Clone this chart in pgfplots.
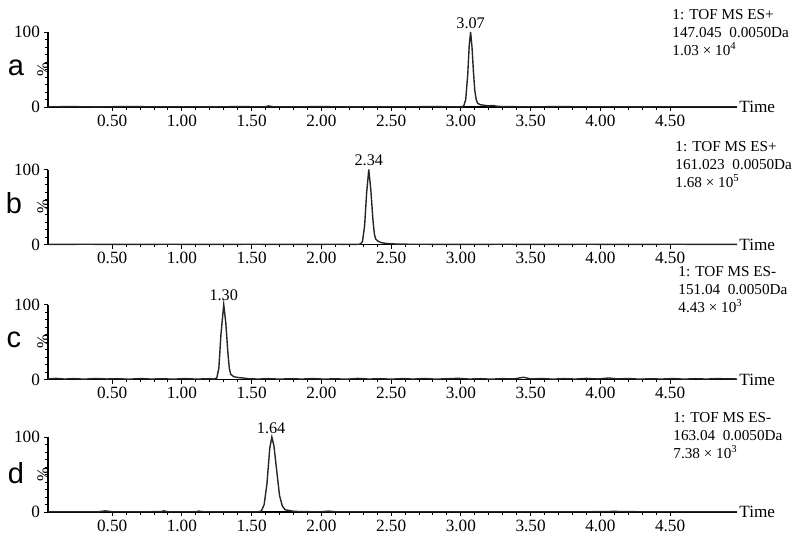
\documentclass[border=0pt]{standalone}
\usepackage{fontspec}
\setmainfont{Liberation Serif}
\newfontfamily\arialfont{Liberation Sans}
\usepackage{pgfplots}
\pgfplotsset{compat=1.18}

% 1px of the reference = 0.5pt
\pgfplotsset{
  msaxis/.style={
    scale only axis, width=344.5pt, height=37.5pt, anchor=south west,
    xmin=0.04, xmax=4.98, ymin=0, ymax=100,
    axis x line*=bottom, axis y line*=left,
    axis line style={-, line width=0.6pt},
    xtick={0.5,1,1.5,2,2.5,3,3.5,4,4.5},
    xticklabels={0.50,1.00,1.50,2.00,2.50,3.00,3.50,4.00,4.50},
    minor x tick num=4,
    ytick={0,100}, minor ytick={10,20,30,40,50,60,70,80,90},
    tick align=outside, major tick length=2pt, minor tick length=1.4pt,
    tick style={line width=0.5pt, black},
    ticklabel style={font=\fontsize{8.6}{9}\selectfont},
    yticklabel style={xshift=1.5pt},
    xticklabel style={yshift=1.6pt},
    /pgf/number format/assume math mode=true,
    clip=false,
  },
  trace/.style={black!85, line width=0.7pt, mark=none},
}
\newcommand{\annot}[4]{\node[anchor=north west, inner sep=0pt, align=left,
  font=\fontsize{7.6}{8.9}\selectfont] at (#1) {1: TOF MS #2\\#3\\#4};}
\tikzset{pk/.style={anchor=south, inner sep=1.5pt, font=\fontsize{8.1}{9}\selectfont},
  pct/.style={xshift=-2.5pt, rotate=90, font=\fontsize{8.3}{9}\selectfont},
  tm/.style={anchor=west, inner sep=1pt, font=\fontsize{8.6}{9}\selectfont},
  let/.style={font=\arialfont\fontsize{14.5}{16}\selectfont}}

\begin{document}
\begin{tikzpicture}
\useasboundingbox (0,0) rectangle (397pt,-268.5pt);

% ---- a ----
\begin{axis}[msaxis, at={(24pt,-53.5pt)}]
\addplot[trace] coordinates {
(0.04,0.3)(0.2,0.5)(0.4,0.2)(0.6,0.6)(0.8,0.3)(1.0,0.4)(1.2,0.2)(1.4,0.5)
(1.6,0.3)(1.62,1.5)(1.65,0.4)(1.8,0.3)(2.0,0.5)(2.2,0.2)(2.4,0.4)(2.6,0.3)
(2.8,0.5)(2.95,0.3)(3.00,0.4)(3.02,1)(3.035,10)(3.05,45)(3.06,82)(3.07,100)
(3.08,80)(3.09,48)(3.10,22)(3.11,10)(3.12,5)(3.14,3)(3.16,2.5)(3.18,2)
(3.20,1.5)(3.23,2)(3.26,1)(3.3,0.5)(3.5,0.3)(3.7,0.5)(3.9,0.3)(4.1,0.4)
(4.3,0.2)(4.5,0.4)(4.7,0.3)(4.98,0.3)};
\node[pk] at (axis cs:3.07,100) {3.07};
\node[pct] at (rel axis cs:0,0.5) {\%};
\node[tm] at (rel axis cs:1,0) {Time};
\end{axis}

% ---- b ----
\begin{axis}[msaxis, at={(24pt,-122.25pt)}]
\addplot[trace] coordinates {
(0.04,0.2)(0.3,0.3)(0.6,0.2)(0.9,0.3)(1.2,0.2)(1.5,0.3)(1.8,0.2)(2.1,0.3)
(2.25,0.2)(2.28,0.5)(2.295,4)(2.31,25)(2.325,70)(2.34,100)(2.355,72)
(2.37,32)(2.38,14)(2.39,7)(2.41,4)(2.43,2.5)(2.46,1.5)(2.50,1)(2.55,0.5)
(2.7,0.3)(3.0,0.2)(3.3,0.3)(3.6,0.2)(3.9,0.3)(4.2,0.2)(4.5,0.3)(4.98,0.2)};
\node[pk] at (axis cs:2.34,100) {2.34};
\node[pct] at (rel axis cs:0,0.5) {\%};
\node[tm] at (rel axis cs:1,0) {Time};
\end{axis}

% ---- c ----
\begin{axis}[msaxis, at={(24pt,-189.75pt)}]
\addplot[trace] coordinates {
(0.04,0.8)(0.1,1.5)(0.16,0.6)(0.22,1.2)(0.3,0.5)(0.38,1.4)(0.46,0.7)(0.54,1.1)
(0.62,0.4)(0.7,1.3)(0.78,0.6)(0.86,1.0)(0.94,0.5)(1.02,1.2)(1.1,0.6)(1.18,0.9)
(1.23,0.7)(1.25,2)(1.265,15)(1.28,60)(1.30,100)(1.315,75)(1.33,35)(1.34,15)
(1.35,7)(1.37,4)(1.39,3)(1.41,2.5)(1.44,2)(1.48,1)(1.55,0.6)(1.62,1.2)
(1.7,0.5)(1.78,1.1)(1.86,0.6)(1.94,1.3)(2.02,0.5)(2.1,1.0)(2.18,0.4)(2.26,1.5)
(2.34,0.6)(2.42,1.1)(2.5,0.5)(2.58,1.2)(2.66,0.6)(2.74,1.4)(2.82,0.5)(2.9,1.0)
(2.98,1.6)(3.06,0.6)(3.14,1.1)(3.22,0.5)(3.3,1.2)(3.38,0.8)(3.45,3)(3.5,0.8)
(3.58,1.3)(3.66,0.5)(3.74,1.2)(3.82,0.6)(3.9,1.5)(3.98,0.7)(4.06,2)(4.12,0.8)
(4.2,1.3)(4.28,0.5)(4.36,1.0)(4.44,0.6)(4.52,1.3)(4.6,0.5)(4.68,1.1)(4.76,0.6)
(4.84,1.2)(4.98,0.7)};
\node[pk] at (axis cs:1.30,100) {1.30};
\node[pct] at (rel axis cs:0,0.5) {\%};
\node[tm] at (rel axis cs:1,0) {Time};
\end{axis}

% ---- d ----
\begin{axis}[msaxis, at={(24pt,-256pt)}]
\addplot[trace] coordinates {
(0.04,0.3)(0.2,0.4)(0.4,0.3)(0.45,1.5)(0.5,0.4)(0.7,0.3)(0.85,0.5)(0.87,1.5)
(0.9,0.4)(1.1,0.3)(1.12,1.2)(1.15,0.4)(1.3,0.3)(1.45,0.4)(1.55,0.4)(1.57,1.5)
(1.59,10)(1.61,38)(1.63,85)(1.645,100)(1.66,88)(1.68,55)(1.70,22)(1.72,8)
(1.74,3)(1.77,2)(1.80,1)(1.85,0.5)(2.0,0.3)(2.05,1.2)(2.1,0.4)(2.3,0.3)
(2.5,0.4)(2.7,0.3)(2.9,0.4)(3.1,0.3)(3.3,0.4)(3.5,0.3)(3.7,0.4)(3.9,0.3)
(4.1,0.8)(4.3,0.3)(4.5,0.4)(4.7,0.3)(4.98,0.3)};
\node[pk] at (axis cs:1.64,100) {1.64};
\node[pct] at (rel axis cs:0,0.5) {\%};
\node[tm] at (rel axis cs:1,0) {Time};
\end{axis}

% panel letters
\node[let] at (8pt,-34pt) {a};
\node[let] at (7pt,-101.5pt) {b};
\node[let] at (7pt,-170pt) {c};
\node[let] at (8pt,-236.5pt) {d};

% acquisition info
\annot{336pt,-4.5pt}{ES+}{147.045\ \ 0.0050Da}{1.03 × 10\textsuperscript{4}}
\annot{337.5pt,-70.5pt}{ES+}{161.023\ \ 0.0050Da}{1.68 × 10\textsuperscript{5}}
\annot{339pt,-133pt}{ES-}{151.04\ \ 0.0050Da}{4.43 × 10\textsuperscript{3}}
\annot{336.5pt,-206pt}{ES-}{163.04\ \ 0.0050Da}{7.38 × 10\textsuperscript{3}}
\end{tikzpicture}
\end{document}
